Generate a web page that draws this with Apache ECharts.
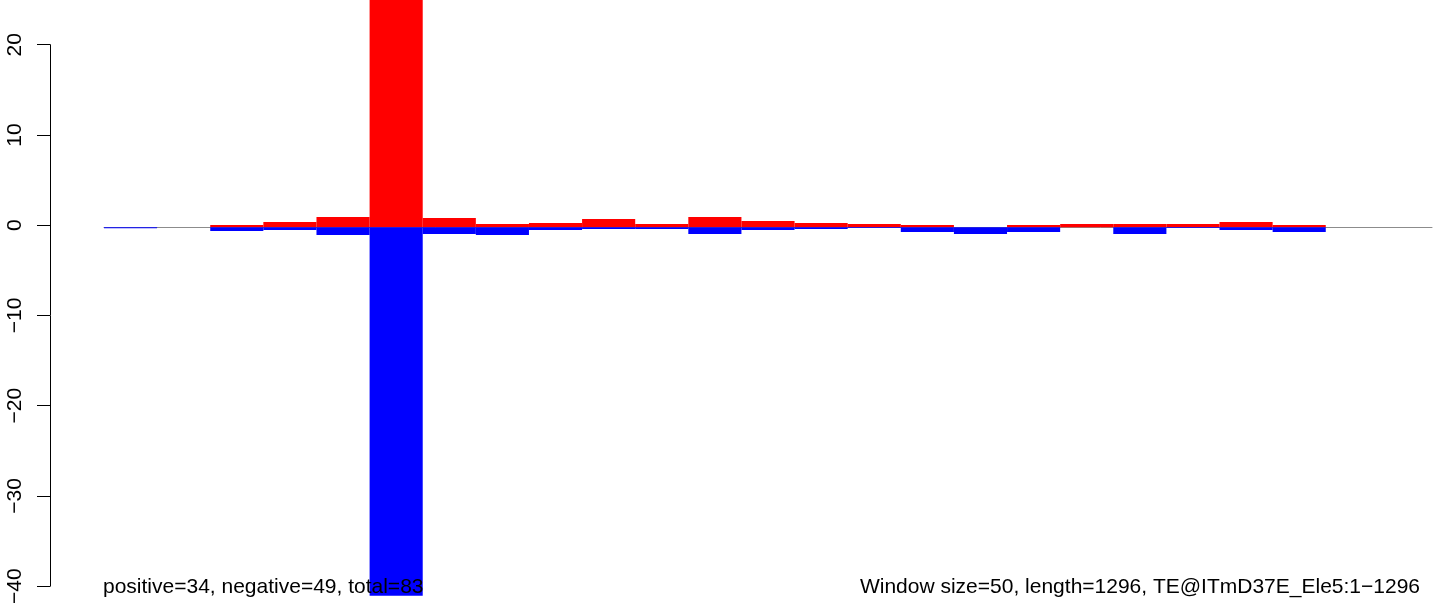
<!DOCTYPE html>
<html>
<head>
<meta charset="utf-8">
<script src="https://cdn.jsdelivr.net/npm/echarts@6/dist/echarts.min.js"></script>
<style>html,body{margin:0;padding:0;background:#fff}#c{width:1444px;height:607px}</style>
</head>
<body>
<div id="c"></div>
<script>
// Window start positions (window size 50, length 1296)
const windows = ['1','51','101','151','201','251','301','351','401','451','501','551','601','651','701','751','801','851','901','951','1001','1051','1101','1151','1201'];
// Positive-strand values per window
const positive = [0, 0, 0.25, 0.58, 1.13, 30, 1.02, 0.36, 0.47, 0.91, 0.36, 1.13, 0.69, 0.47, 0.36, 0.25, 0, 0.25, 0.36, 0.36, 0.36, 0.58, 0.25, 0, 0];
// Negative-strand values per window
const negative = [-0.1, 0, -0.4, -0.3, -0.85, -42, -0.74, -0.85, -0.3, -0.19, -0.19, -0.74, -0.3, -0.19, -0.08, -0.52, -0.74, -0.52, 0, -0.74, -0.08, -0.3, -0.52, 0, 0];
// Tick values of the y axis
const yTicks = [-40, -30, -20, -10, 0, 10, 20];
const leftNote = 'positive=34, negative=49, total=83';
const rightNote = 'Window size=50, length=1296, TE@ITmD37E_Ele5:1\u22121296';

const FONT = '"Liberation Sans", Arial, Helvetica, sans-serif';
const chart = echarts.init(document.getElementById('c'), null, {renderer: 'canvas'});
chart.setOption({
  animation: false,
  backgroundColor: '#fff',
  grid: [
    {left: 104, right: 12, top: 0, bottom: 11.3, containLabel: false},
    {left: 50, width: 1, top: 44.7, bottom: 16, containLabel: false}
  ],
  xAxis: [
    {type: 'category', gridIndex: 0, data: windows, boundaryGap: true,
     axisLine: {show: true, onZero: true, lineStyle: {color: '#8c8c8c', width: 1}},
     axisTick: {show: false}, axisLabel: {show: false}, splitLine: {show: false}},
    {type: 'value', gridIndex: 1, show: false}
  ],
  yAxis: [
    {type: 'value', gridIndex: 0, min: -40.44, max: 24.95, show: false, splitLine: {show: false}},
    {type: 'value', gridIndex: 1, min: yTicks[0], max: yTicks[yTicks.length - 1], interval: 10,
     position: 'left',
     axisLine: {show: true, lineStyle: {color: '#000', width: 1}},
     axisTick: {show: true, length: 13, inside: false, lineStyle: {color: '#000', width: 1}},
     axisLabel: {show: true, rotate: 90, margin: 24, color: '#000', fontSize: 21, fontFamily: FONT,
       formatter: v => (v < 0 ? '\u2212' + Math.abs(v) : String(v))},
     splitLine: {show: false}}
  ],
  series: [
    {type: 'bar', xAxisIndex: 0, yAxisIndex: 0, data: positive, stack: 'w',
     barWidth: '100%', barCategoryGap: 0, itemStyle: {color: '#ff0000'}, z: 3},
    {type: 'bar', xAxisIndex: 0, yAxisIndex: 0, data: negative, stack: 'w',
     barWidth: '100%', barCategoryGap: 0, itemStyle: {color: '#0000ff'}, z: 3}
  ],
  graphic: [
    {type: 'text', left: 103, top: 577, z: 10,
     style: {text: leftNote, fill: '#000', font: '21px ' + FONT}},
    {type: 'text', right: 24, top: 577, z: 10,
     style: {text: rightNote, fill: '#000', font: '21px ' + FONT}}
  ]
});
</script>
</body>
</html>
